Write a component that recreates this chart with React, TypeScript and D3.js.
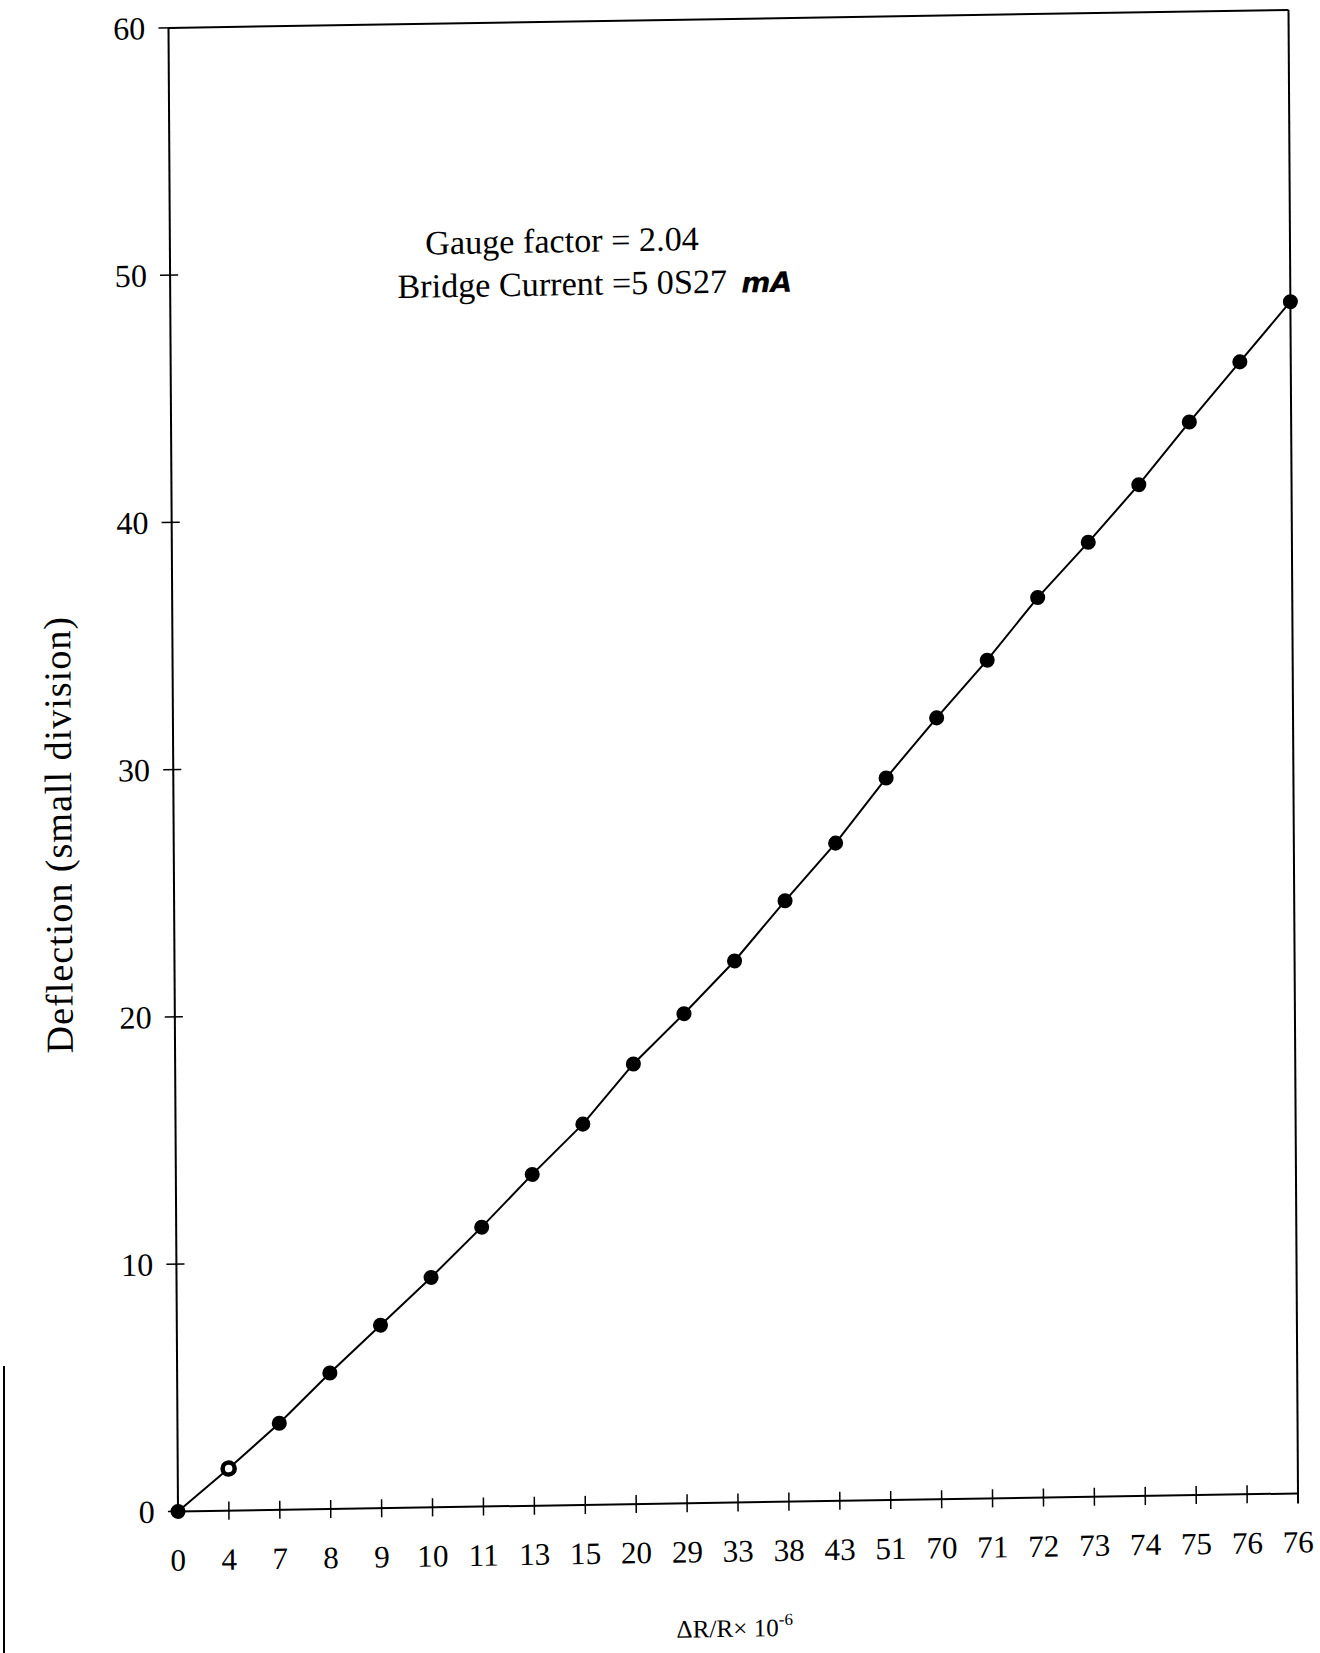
import React from 'react';
import * as d3 from 'd3';

// Strain values (ΔR/R × 10^-6) shown along the x axis, one per reading
const strainLabels = ['0', '4', '7', '8', '9', '10', '11', '13', '15', '20', '29', '33', '38', '43', '51', '70', '71', '72', '73', '74', '75', '76', '76'];
// Galvanometer deflection for each reading (small divisions)
const deflection = [0, 1.7, 3.5, 5.5, 7.4, 9.3, 11.3, 13.4, 15.4, 17.8, 19.8, 21.9, 24.3, 26.6, 29.2, 31.6, 33.9, 36.4, 38.6, 40.9, 43.4, 45.8, 48.2];
// Readings plotted with an open marker
const openMarkers = [1];
const yTicks = [0, 10, 20, 30, 40, 50, 60];

const W = 1320;
const H = 1653;
const M = { left: 176, right: 1290, top: 21, bottom: 1501 };
const SERIF = '"Liberation Serif", "DejaVu Serif", serif';
// the sheet sits slightly askew
const SHEET = 'matrix(1.00539 -0.016158 0.006419 1.002365 -8.584 9.744)';

export default function App() {
  const idx = d3.range(strainLabels.length);
  const x = d3.scalePoint<number>().domain(idx).range([M.left, M.right]).padding(0);
  const y = d3.scaleLinear().domain([0, 60]).range([M.bottom, M.top]);
  const line = d3
    .line<number>()
    .x((i) => x(i) as number)
    .y((i) => y(deflection[i]));

  return (
    <svg
      width={W}
      height={H}
      viewBox={`0 0 ${W} ${H}`}
      style={{ position: 'absolute', left: 0, top: 0, display: 'block', background: '#fff' }}
    >
      <rect x={0} y={0} width={W} height={H} fill="#fff" />
      {/* page edge */}
      <line x1={4} x2={4} y1={1366} y2={H} stroke="#000" strokeWidth={2} />
      <g transform={SHEET}>
        {/* frame */}
        <line x1={M.left} x2={M.right} y1={M.top} y2={M.top} stroke="#000" strokeWidth={2} />
        <line x1={M.right} x2={M.right} y1={M.top} y2={M.bottom + 10} stroke="#000" strokeWidth={2} />
        <line x1={M.left} x2={M.left} y1={M.top} y2={M.bottom} stroke="#000" strokeWidth={2} />
        <line x1={M.left} x2={M.right} y1={M.bottom} y2={M.bottom} stroke="#000" strokeWidth={2} />

        {/* y axis ticks and labels */}
        {yTicks.map((t) => (
          <g key={`y${t}`}>
            <line x1={M.left - 10} x2={M.left + 8} y1={y(t)} y2={y(t)} stroke="#000" strokeWidth={1.5} />
            <text
              x={M.left - 23}
              y={y(t)}
              dy="0.34em"
              textAnchor="end"
              fontFamily={SERIF}
              fontSize={32}
              fill="#000"
            >
              {t}
            </text>
          </g>
        ))}

        {/* x axis ticks and labels */}
        {idx.map((i) => (
          <g key={`x${i}`}>
            {i > 0 && i < idx.length - 1 && (
              <line
                x1={x(i)}
                x2={x(i)}
                y1={M.bottom - 9}
                y2={M.bottom + 9}
                stroke="#000"
                strokeWidth={1.5}
              />
            )}
            <text
              x={x(i)}
              y={M.bottom + 59}
              textAnchor="middle"
              fontFamily={SERIF}
              fontSize={31}
              fill="#000"
            >
              {strainLabels[i]}
            </text>
          </g>
        ))}

        {/* calibration line */}
        <path d={line(idx) || ''} fill="none" stroke="#000" strokeWidth={2} />
        {idx.map((i) =>
          openMarkers.includes(i) ? (
            <circle key={`p${i}`} cx={x(i)} cy={y(deflection[i])} r={6} fill="#fff" stroke="#000" strokeWidth={4.5} />
          ) : (
            <circle key={`p${i}`} cx={x(i)} cy={y(deflection[i])} r={7.5} fill="#000" />
          )
        )}

        {/* annotation */}
        <text x={430} y={251} fontFamily={SERIF} fontSize={34} fill="#000">
          Gauge factor = 2.04
        </text>
        <text x={402} y={294} fontFamily={SERIF} fontSize={34} fill="#000">
          Bridge Current =5 0S27
          <tspan dx={14} fontFamily='"DejaVu Sans", sans-serif' fontStyle="italic" fontWeight="bold" fontSize={28}>
            mA
          </tspan>
        </text>

        {/* axis titles */}
        <text
          transform="translate(61 824) rotate(-90)"
          textAnchor="middle"
          dy="0.35em"
          fontFamily={SERIF}
          fontSize={38}
          letterSpacing={1}
          fill="#000"
        >
          Deflection (small division)
        </text>
        <text x={729} y={1635} textAnchor="middle" fontFamily={SERIF} fontSize={25} fill="#000">
          ΔR/R× 10
          <tspan dy={-11} fontSize={17}>
            -6
          </tspan>
        </text>
      </g>
    </svg>
  );
}
